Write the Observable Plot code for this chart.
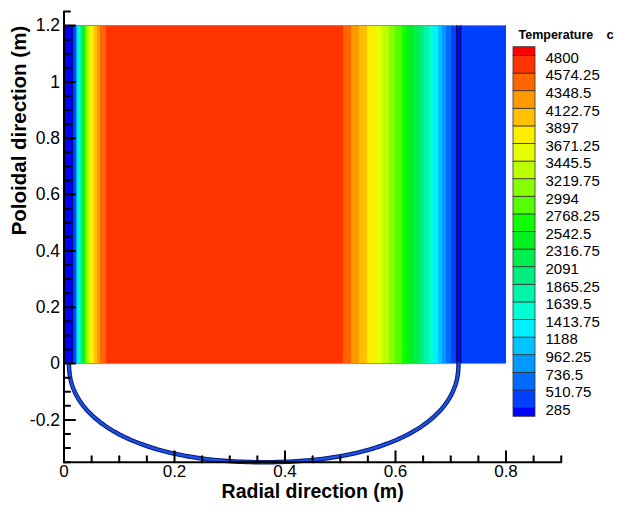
<!DOCTYPE html>
<html>
<head>
<meta charset="utf-8">
<script src="https://cdn.jsdelivr.net/npm/d3@7"></script>
<script src="https://cdn.jsdelivr.net/npm/@observablehq/plot@0.6"></script>
<style>
  html, body { margin: 0; padding: 0; background: #fff; }
  #chart { position: relative; width: 617px; height: 508px; font-family: "Liberation Sans", Arial, sans-serif; }
  #chart > svg { position: absolute; top: 0; max-width: none !important; }
</style>
</head>
<body>
<div id="chart"></div>
<script>
// Contour levels of the temperature field (°C)
const levels = [285, 510.75, 736.5, 962.25, 1188, 1413.75, 1639.5, 1865.25, 2091, 2316.75,
  2542.5, 2768.25, 2994, 3219.75, 3445.5, 3671.25, 3897, 4122.75, 4348.5, 4574.25, 4800];

// Fill colour of each contour band, from below 285 up to above 4800
const levelColors = ["#0000ff", "#0040ff", "#006cff", "#0099ff", "#00c4ff", "#00f0ff",
  "#00ffd4", "#00f5a8", "#00ee80", "#00ee50", "#00f020", "#10ff00", "#55ff00", "#88ff00",
  "#bbff00", "#e6ff00", "#ffee00", "#ffc000", "#ff9900", "#ff6600", "#ff3300", "#ff0000"];

// Radial boundaries (m) of the constant-temperature strips of the molten pool
const stripEdges = [0, 0.0172,
  0.0200, 0.0220, 0.0236, 0.0252, 0.0270, 0.0290, 0.0310, 0.0330, 0.0350, 0.0370,
  0.0392, 0.0412, 0.0433, 0.0460, 0.0492, 0.0545, 0.0600, 0.0660, 0.0775, 0.505,
  0.520, 0.535, 0.550, 0.564, 0.576, 0.589, 0.600, 0.612, 0.622, 0.634,
  0.643, 0.653, 0.661, 0.669, 0.677, 0.685, 0.693, 0.701, 0.7105,
  0.719, 0.800];

// Temperature (°C) inside each strip
const stripTemperature = [250,
  400, 620, 850, 1075, 1300, 1525, 1750, 1980, 2200, 2430,
  2655, 2880, 3105, 3330, 3560, 3785, 4010, 4235, 4460, 4690,
  4460, 4235, 4010, 3785, 3560, 3330, 3105, 2880, 2655, 2430,
  2200, 1980, 1750, 1525, 1300, 1075, 850, 620, 400,
  250, 400];

// Wall interfaces (m)
const wallLines = [0.0148, 0.7105, 0.7185];

// Axis ticks (m)
const xMajorTicks = [0, 0.2, 0.4, 0.6, 0.8];
const yMajorTicks = [-0.2, 0, 0.2, 0.4, 0.6, 0.8, 1, 1.2];

// Lower head of the vessel (m)
const headCenter = 0.3615, headHalfWidth = 0.3525, headDepth = 0.35, headExponent = 2.2;
const poolTop = 1.2, poolRight = 0.8;

const font = "Liberation Sans, Arial, sans-serif";
const color = {type: "threshold", domain: levels, range: levelColors};

const strips = stripTemperature.map((t, i) => ({x1: stripEdges[i], x2: stripEdges[i + 1], t}));

const head = d3.range(0, 181).map(i => {
  const a = Math.PI * i / 180, c = Math.cos(a), s = Math.sin(a), p = 2 / headExponent;
  return {x: headCenter - headHalfWidth * Math.sign(c) * Math.pow(Math.abs(c), p),
          y: -headDepth * Math.pow(Math.abs(s), p)};
});

const round = v => Math.round(v * 100) / 100;
const xMinor = d3.range(0, 19).map(i => round(i * 0.05)).filter(v => !xMajorTicks.includes(v));
const yMinor = d3.range(-7, 26).map(i => round(i * 0.05)).filter(v => !yMajorTicks.includes(v));

// inward tick drawn as a plain segment
const tickShape = {draw(context, l) { context.moveTo(0, 0); context.lineTo(0, -l); }};
const ticksX = (data, length) => Plot.vector(data, {x: d => d, y: -0.35, length, rotate: 0,
  anchor: "start", shape: tickShape, stroke: "black", strokeWidth: 2});
const ticksY = (data, length) => Plot.vector(data, {x: 0, y: d => d, length, rotate: 90,
  anchor: "start", shape: tickShape, stroke: "black", strokeWidth: 2});

const chart = Plot.plot({
  width: 617,
  height: 508,
  marginLeft: 63.5,
  marginRight: 56.25,
  marginTop: 11,
  marginBottom: 46.3,
  style: {fontFamily: font, background: "transparent", overflow: "visible"},
  x: {domain: [0, 0.9], label: null},
  y: {domain: [-0.35, 1.25], label: null},
  color,
  marks: [
    Plot.rect(strips, {x1: "x1", x2: "x2", y1: 0, y2: poolTop, fill: "t", shapeRendering: "crispEdges"}),
    Plot.ruleY([0, poolTop], {x1: 0, x2: poolRight, stroke: "#8c8c8c", strokeWidth: 1}),
    Plot.ruleX(wallLines, {y1: 0, y2: poolTop, stroke: "#00124d", strokeWidth: 1}),
    Plot.line(head, {x: "x", y: "y", stroke: "#0b1f6e", strokeWidth: 4.5, curve: "linear"}),
    Plot.line(head, {x: "x", y: "y", stroke: "#1a4fe8", strokeWidth: 2.4, curve: "linear"}),
    Plot.ruleY([-0.35], {stroke: "black", strokeWidth: 2}),
    Plot.ruleX([0], {stroke: "black", strokeWidth: 2}),
    ticksX(xMajorTicks, 11),
    ticksX(xMinor, 6),
    ticksY(yMajorTicks, 11),
    ticksY(yMinor, 6),
    Plot.axisX({ticks: xMajorTicks, anchor: "bottom", tickSize: 0, tickPadding: 3,
      tickFormat: d => String(d), fontSize: 17, label: null}),
    Plot.axisY({ticks: yMajorTicks, anchor: "left", tickSize: 0, tickPadding: 4,
      tickFormat: d => String(d), fontSize: 17.5, label: null}),
    Plot.text(["Radial direction (m)"], {frameAnchor: "bottom", dy: 36, fontSize: 19.5,
      fontWeight: "bold", fill: "black"}),
    Plot.text(["Poloidal direction (m)"], {frameAnchor: "left", dx: -44.5, dy: -1.5, rotate: -90,
      fontSize: 20.5, fontWeight: "bold", fill: "black"})
  ]
});
chart.style.left = "0px";
document.getElementById("chart").append(chart);

// Colour legend of the contour levels: half-height end boxes below 285 and above 4800
const step = levels[1] - levels[0];
const boxEdges = [levels[0] - step / 2, ...levels, levels[levels.length - 1] + step / 2];
const boxes = boxEdges.slice(0, -1).map((v, i) => ({y1: v, y2: boxEdges[i + 1], t: (v + boxEdges[i + 1]) / 2}));

const legend = Plot.plot({
  width: 117,
  height: 508,
  marginLeft: 13,
  marginRight: 82,
  marginTop: 46.7,
  marginBottom: 91.7,
  style: {fontFamily: font, background: "transparent", overflow: "visible"},
  x: {domain: [0, 1], axis: null},
  y: {domain: [boxEdges[0], boxEdges[boxEdges.length - 1]], axis: null},
  color,
  marks: [
    Plot.rect(boxes, {x1: 0, x2: 1, y1: "y1", y2: "y2", fill: "t", stroke: "#333", strokeWidth: 0.8}),
    Plot.text(levels, {x: 1, y: d => d, text: d => String(d), textAnchor: "start", dx: 10, dy: 2,
      fontSize: 15, fill: "black"}),
    Plot.text(["Temperature"], {frameAnchor: "top-left", dx: 5, dy: -16.7, textAnchor: "start",
      fontSize: 12.5, fontWeight: "bold", fill: "black"}),
    Plot.text(["c"], {frameAnchor: "top-left", dx: 93, dy: -17.7, textAnchor: "start",
      fontSize: 13, fontWeight: "bold", fill: "black"})
  ]
});
legend.style.left = "500px";
legend.style.width = "117px";
document.getElementById("chart").append(legend);
</script>
</body>
</html>
